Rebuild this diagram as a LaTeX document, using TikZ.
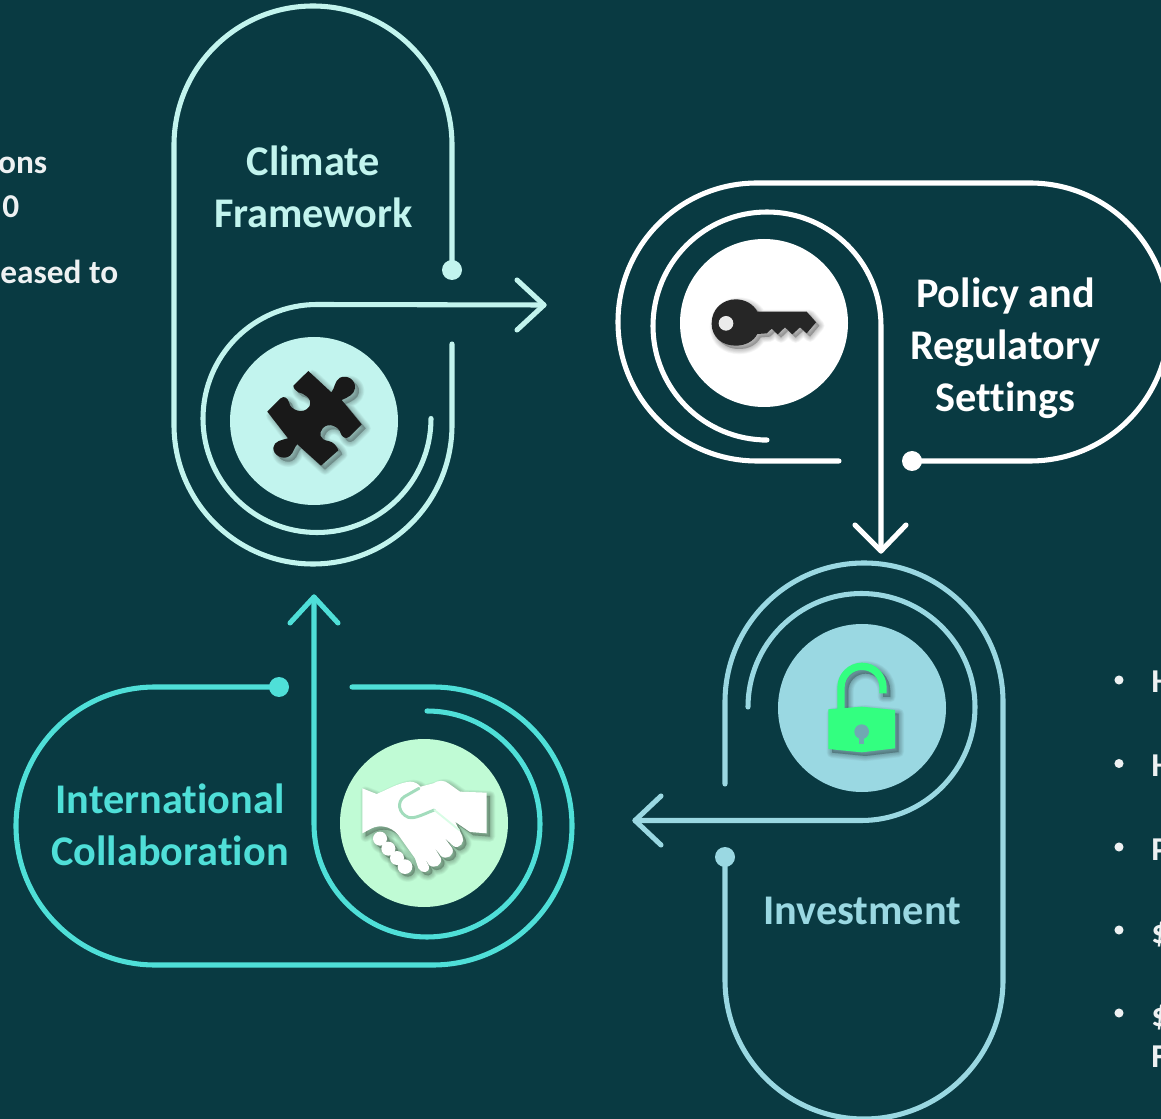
\documentclass[tikz,border=0pt]{standalone}
\usepackage{fontspec}
\setmainfont[Ligatures=NoCommon]{Carlito}
\definecolor{bgc}{HTML}{093A42}
\definecolor{cClimate}{HTML}{C2F4EE}
\definecolor{cInvest}{HTML}{9AD8E2}
\definecolor{cIntl}{HTML}{4FDFD8}
\definecolor{cShake}{HTML}{C0FBD5}
\definecolor{cLock}{HTML}{33FF80}
\definecolor{cBody}{HTML}{EEF1F2}
\definecolor{cGroove}{HTML}{A2DCBC}
\definecolor{cHole}{HTML}{6FA9B2}
\tikzset{
  flow/.style={line width=3.8pt,line cap=round,line join=round},
  disc/.style={circle,minimum size=126pt,inner sep=0pt,fill=#1},
  knob/.style={circle,minimum size=15pt,inner sep=0pt,fill=#1},
  title/.style={font=\fontsize{31.7pt}{39pt}\selectfont\bfseries,align=center,inner sep=0pt},
  body/.style={font=\fontsize{25pt}{28pt}\selectfont\bfseries,text=cBody,inner sep=0pt},
  pin/.style={circle,minimum size=6.8pt,inner sep=0pt,fill=cBody},
  icon/.style={shift={#1},x=0.25pt,y=-0.25pt}
}
\newcommand{\softshadow}[2]{%
  \foreach \lw in {8pt,7pt,6pt,5pt,4pt,3pt,2pt,1pt}{%
    \path[fill=black,draw=black,opacity=0.032,line width=\lw,line join=round,shift={(#2,#2)}] #1;
  }%
}
\def\puzzlepath{(145,18) -- (214,82) .. controls (225,70) and (222,50) .. (240,38) .. controls (262,28) and (288,45) .. (285,70) .. controls (283,88) and (262,98) .. (245,105) -- (305,178) -- (268,215) .. controls (258,225) and (245,215) .. (242,205) .. controls (238,185) and (205,170) .. (188,190) .. controls (175,205) and (180,225) .. (205,228) .. controls (220,230) and (232,245) .. (235,256) -- (183,302) -- (112,238) .. controls (103,245) and (102,262) .. (90,272) .. controls (70,288) and (38,270) .. (40,248) .. controls (42,228) and (65,225) .. (84,220) -- (22,140) -- (62,100) .. controls (72,90) and (85,100) .. (88,115) .. controls (92,135) and (130,150) .. (148,125) .. controls (160,100) and (130,85) .. (115,82) .. controls (108,78) and (100,70) .. (100,62) -- cycle}
\def\keypath{(20,100) .. controls (20,55) and (55,28) .. (92,28) .. controls (120,28) and (145,42) .. (157,65) -- (305,65) -- (333,97) -- (305,130) -- (285,112) -- (262,133) -- (240,112) -- (218,133) -- (200,116) -- (185,130) -- (157,132) .. controls (145,155) and (120,167) .. (92,167) .. controls (55,167) and (20,145) .. (20,100) -- cycle}
\def\lockbody{(25,163) -- (125,155) -- (225,165) -- (225,280) -- (125,292) -- (25,282) -- cycle}
\def\lockshackle{(52,165) -- (52,97) arc[start angle=180,end angle=360,radius=74] -- (200,115) -- (178,115) -- (178,97) arc[start angle=0,end angle=-180,radius=52] -- (74,165) -- cycle}
\def\handpath{(22,55) -- (65,72) .. controls (95,60) and (130,38) .. (165,35) .. controls (180,35) and (190,42) .. (197,50) -- (235,40) .. controls (250,30) and (268,30) .. (280,40) -- (315,65) -- (395,68) -- (395,190) -- (345,186) -- (300,155) -- (322,198) .. controls (332,215) and (312,240) .. (295,228) -- (268,203) -- (292,235) .. controls (300,255) and (275,272) .. (258,258) -- (235,228) -- (258,265) .. controls (262,285) and (238,298) .. (222,285) -- (205,255) -- (222,290) .. controls (224,310) and (200,312) .. (190,295) -- (180,265) -- (130,195) .. controls (105,165) and (70,165) .. (50,175) -- (22,190) -- cycle}
\begin{document}
\begin{tikzpicture}[x=0.75pt,y=-0.75pt]
\useasboundingbox (0,0) rectangle (1161,1119);
\clip (0,0) rectangle (1161,1119);
\fill[bgc] (0,0) rectangle (1161,1119);

% left text
\node[body,anchor=base east] (t1) at (47.5,174) {ons};
\node[body,anchor=base east] (t2) at (19.5,218) {0};
\node[body,anchor=base east] (t3) at (118.5,284) {eased to};

% right bullets
\foreach \n/\y in {a/680,b/763.5,c/847,d/930,e/1013}{\node[pin] (b\n) at (1119,\y) {};}
\node[body,anchor=base west] (ra) at (1151,693) {H};
\node[body,anchor=base west] (rb) at (1151,776) {H};
\node[body,anchor=base west] (rc) at (1151,860) {P};
\node[body,anchor=base west] (rd) at (1151,943) {\$};
\node[body,anchor=base west] (re) at (1151,1026) {\$};
\node[body,anchor=base west] (rf) at (1151,1067) {F};

% Climate Framework
\node[knob=cClimate] (dotA) at (452,270) {};
\coordinate (endA) at (452,344);
\coordinate (tipA) at (544,305);
\draw[flow,cClimate] (dotA.center) -- (452,145) arc[start angle=0,end angle=-180,radius=139] -- (174,425) arc[start angle=180,end angle=0,radius=139] -- (endA);
\draw[flow,cClimate] (431,418.5) arc[start angle=0,end angle=270,radius=114] -- (tipA);
\draw[flow,cClimate] (517,280) -- (tipA) -- (517,330);
\node[disc=cClimate] (discA) at (314,421) {};
\node[title,text=cClimate] (labelA) at (313.5,186.5) {Climate\\Framework};
\begin{scope}[icon={(260,365)}]
  \softshadow{\puzzlepath}{12}
  \fill[black!90] \puzzlepath;
\end{scope}

% Policy
\node[knob=white] (dotB) at (912,461) {};
\coordinate (endB) at (839,461);
\coordinate (tipB) at (881,551);
\draw[flow,white] (endB) -- (757,461) arc[start angle=90,end angle=270,radius=139] -- (1030,183) arc[start angle=270,end angle=450,radius=139] -- (dotB.center);
\draw[flow,white] (762,440) -- (767,440) arc[start angle=90,end angle=360,radius=114] -- (tipB);
\draw[flow,white] (855,525) -- (tipB) -- (906,525);
\node[disc=white] (discB) at (764,323) {};
\node[title,text=white] (labelB) at (1005.5,348) {Policy and\\Regulatory\\Settings};
\begin{scope}[icon={(705,290)}]
  \softshadow{\keypath}{10}
  \fill[black!85] \keypath;
  \fill[white!92!black] (63,100) circle[radius=22];
\end{scope}

% Investment
\node[knob=cInvest] (dotC) at (725,857) {};
\coordinate (endC) at (725,784);
\coordinate (tipC) at (635,820.5);
\draw[flow,cInvest] (dotC.center) -- (725,980) arc[start angle=180,end angle=0,radius=139] -- (1003,702) arc[start angle=0,end angle=-180,radius=139] -- (endC);
\draw[flow,cInvest] (748,707) arc[start angle=180,end angle=450,radius=113.5] -- (tipC);
\draw[flow,cInvest] (661,796) -- (tipC) -- (661,845);
\node[disc=cInvest] (discC) at (862,708) {};
\node[title,text=cInvest] (labelC) at (862,911) {Investment};
\begin{scope}[icon={(820,655)}]
  \softshadow{\lockbody}{11}
  \softshadow{\lockshackle}{11}
  \fill[cLock] \lockshackle;
  \fill[cLock] \lockbody;
  \fill[cHole] (125,230) circle[radius=22];
  \fill[cHole] (118,235) rectangle (132,268);
\end{scope}

% International Collaboration
\node[knob=cIntl] (dotD) at (279,687) {};
\coordinate (endD) at (352,687);
\coordinate (tipD) at (314,597);
\draw[flow,cIntl] (dotD.center) -- (155,687) arc[start angle=270,end angle=90,radius=139] -- (433,965) arc[start angle=90,end angle=-90,radius=139] -- (endD);
\draw[flow,cIntl] (427,711) arc[start angle=270,end angle=540,radius=113] -- (tipD);
\draw[flow,cIntl] (290,623) -- (tipD) -- (338,623);
\node[disc=cShake] (discD) at (424,823) {};
\node[title,text=cIntl] (labelD) at (170,824.5) {International\\Collaboration};
\begin{scope}[icon={(355,770)}]
  \softshadow{\handpath}{10}
  \foreach \kx/\ky/\kr in {75/206/21,100/236/21,126/264/21,150/290/22}{
    \softshadow{(\kx,\ky) circle[radius=\kr]}{8}
  }
  \fill[white] \handpath;
  \foreach \kx/\ky/\kr in {75/206/21,100/236/21,126/264/21,150/290/22}{
    \fill[white] (\kx,\ky) circle[radius=\kr];
  }
  \draw[cGroove,line width=2.2pt,line cap=round] (192,55) -- (148,80) .. controls (125,95) and (130,130) .. (160,142) .. controls (180,148) and (210,130) .. (238,120);
  \draw[cShake!60!white,line width=1.4pt,line cap=round] (238,120) -- (312,180);
\end{scope}
\end{tikzpicture}
\end{document}
